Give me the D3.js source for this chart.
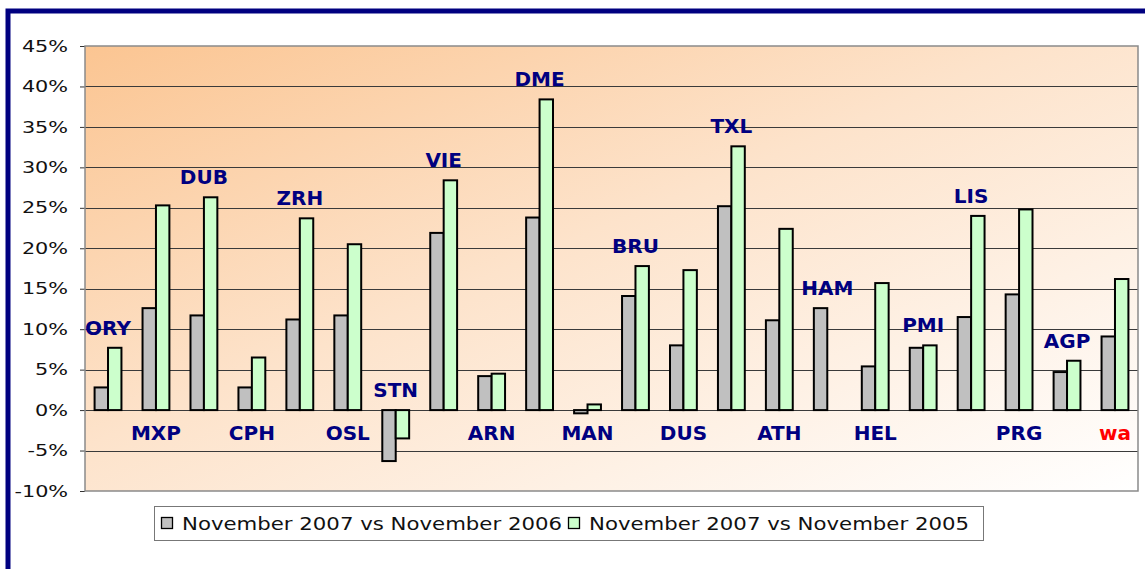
<!DOCTYPE html>
<html>
<head>
<meta charset="utf-8">
<script src="https://cdn.jsdelivr.net/npm/d3@7"></script>
<style>
  body { margin: 0; background: #fff; }
  svg { display: block; }
</style>
</head>
<body>
<div class="chart"></div>
<script>
// airport codes, in chart order
const airports = ['ORY', 'MXP', 'DUB', 'CPH', 'ZRH', 'OSL', 'STN', 'VIE', 'ARN', 'DME', 'MAN',
  'BRU', 'DUS', 'TXL', 'ATH', 'HAM', 'HEL', 'PMI', 'LIS', 'PRG', 'AGP', 'wa'];

// growth in %
const vs2006 = [2.8, 12.6, 11.7, 2.8, 11.2, 11.7, -6.3, 21.9, 4.2, 23.8, -0.4,
  14.1, 8.0, 25.2, 11.1, 12.6, 5.4, 7.7, 11.5, 14.3, 4.7, 9.1];
const vs2005 = [7.7, 25.3, 26.3, 6.5, 23.7, 20.5, -3.5, 28.4, 4.5, 38.4, 0.7,
  17.8, 17.3, 32.6, 22.4, null, 15.7, 8.0, 24.0, 24.8, 6.1, 16.2];

// where the code label sits: above the bars or under the zero line
const labelSide = ['up', 'down', 'up', 'down', 'up', 'down', 'up', 'up', 'down', 'up', 'down',
  'up', 'down', 'up', 'down', 'up', 'down', 'up', 'up', 'down', 'up', 'down'];

const seriesNames = ['November 2007 vs November 2006', 'November 2007 vs November 2005'];
const seriesColors = ['#c0c0c0', '#ccffcc'];
const yTicks = [-10, -5, 0, 5, 10, 15, 20, 25, 30, 35, 40, 45];

const width = 1145, height = 569;
const [pl, pr, pt, pb] = [85, 1138, 46, 491]; // plot area edges

const svg = d3.select('.chart').append('svg')
  .attr('width', width)
  .attr('height', height);

// background gradient of plot area
const defs = svg.append('defs');
const grad = defs.append('linearGradient')
  .attr('id', 'bg')
  .attr('x1', 0).attr('y1', 0).attr('x2', 1).attr('y2', 1);
grad.append('stop').attr('offset', '0%').attr('stop-color', '#fbc592');
grad.append('stop').attr('offset', '45%').attr('stop-color', '#fde3cb');
grad.append('stop').attr('offset', '100%').attr('stop-color', '#ffffff');

// outer navy frame
svg.append('rect')
  .attr('x', 8).attr('y', 11)
  .attr('width', width + 20).attr('height', height + 20)
  .attr('fill', 'none')
  .attr('stroke', '#000080')
  .attr('stroke-width', 5);

const x = d3.scaleBand()
  .domain(airports)
  .range([pl, pr])
  .paddingInner(0.44)
  .paddingOuter(0.2);

const xs = d3.scaleBand()
  .domain([0, 1])
  .range([0, x.bandwidth()]);

const y = d3.scaleLinear()
  .domain([-10, 45])
  .range([pb, pt]);

svg.append('rect')
  .attr('x', pl).attr('y', pt)
  .attr('width', pr - pl).attr('height', pb - pt)
  .attr('fill', 'url(#bg)');

// gridlines
svg.append('g')
  .selectAll('line')
  .data(yTicks.filter(d => d > -10 && d < 45))
  .join('line')
  .attr('x1', pl).attr('x2', pr)
  .attr('y1', d => Math.round(y(d)) + 0.5)
  .attr('y2', d => Math.round(y(d)) + 0.5)
  .attr('stroke', '#3a3a3a')
  .attr('stroke-width', 1);

// y axis
const yAxisG = svg.append('g')
  .attr('transform', `translate(${pl},0)`)
  .call(d3.axisLeft(y).tickValues(yTicks).tickSize(5).tickPadding(8).tickFormat(d => d + '%'));
yAxisG.select('.domain').remove();
yAxisG.selectAll('.tick line').attr('stroke', '#333');
yAxisG.selectAll('.tick text')
  .attr('font-family', 'DejaVu Sans, Verdana, sans-serif')
  .attr('font-size', 16)
  .attr('fill', '#111')
  .attr('transform', 'scale(1.3,1)');

// bars
const rows = airports.map((a, i) => ({ a, i, vals: [vs2006[i], vs2005[i]] }));
const groups = svg.append('g')
  .selectAll('g')
  .data(rows)
  .join('g')
  .attr('transform', d => `translate(${x(d.a)},0)`);

groups.selectAll('rect')
  .data(d => d.vals.map((v, s) => ({ v, s })).filter(e => e.v !== null))
  .join('rect')
  .attr('x', e => xs(e.s))
  .attr('y', e => y(Math.max(0, e.v)))
  .attr('width', xs.bandwidth())
  .attr('height', e => Math.abs(y(e.v) - y(0)))
  .attr('fill', e => seriesColors[e.s])
  .attr('stroke', '#000')
  .attr('stroke-width', 2);

// plot border
svg.append('rect')
  .attr('x', pl).attr('y', pt)
  .attr('width', pr - pl).attr('height', pb - pt)
  .attr('fill', 'none')
  .attr('stroke', '#8a8a8a')
  .attr('stroke-width', 1.5);

// airport labels
svg.append('g')
  .selectAll('text')
  .data(rows)
  .join('text')
  .attr('x', d => x(d.a) + x.bandwidth() / 2)
  .attr('y', d => {
    const top = Math.max(0, ...d.vals.filter(v => v !== null));
    return labelSide[d.i] === 'up' ? y(top) - 13 : y(0) + 30;
  })
  .attr('text-anchor', 'middle')
  .attr('font-family', 'DejaVu Sans, Verdana, sans-serif')
  .attr('font-weight', 'bold')
  .attr('font-size', 20)
  .attr('fill', d => d.a === 'wa' ? '#ff0000' : '#000080')
  .text(d => d.a);

// legend
const legend = svg.append('g');
legend.append('rect')
  .attr('x', 154.5).attr('y', 506.5)
  .attr('width', 829).attr('height', 34)
  .attr('fill', '#fff')
  .attr('stroke', '#777')
  .attr('stroke-width', 1);

const legendX = [161, 568];
const items = legend.selectAll('g.item')
  .data(seriesNames)
  .join('g')
  .attr('class', 'item')
  .attr('transform', (d, i) => `translate(${legendX[i]},0)`);

items.append('rect')
  .attr('x', 0.5).attr('y', 517.5)
  .attr('width', 11).attr('height', 11)
  .attr('fill', (d, i) => seriesColors[i])
  .attr('stroke', '#000')
  .attr('stroke-width', 1.3);

items.append('text')
  .attr('x', 21).attr('y', 530)
  .attr('font-family', 'DejaVu Sans, Verdana, sans-serif')
  .attr('font-size', 18)
  .attr('fill', '#111')
  .attr('textLength', 380)
  .attr('lengthAdjust', 'spacingAndGlyphs')
  .text(d => d);
</script>
</body>
</html>
